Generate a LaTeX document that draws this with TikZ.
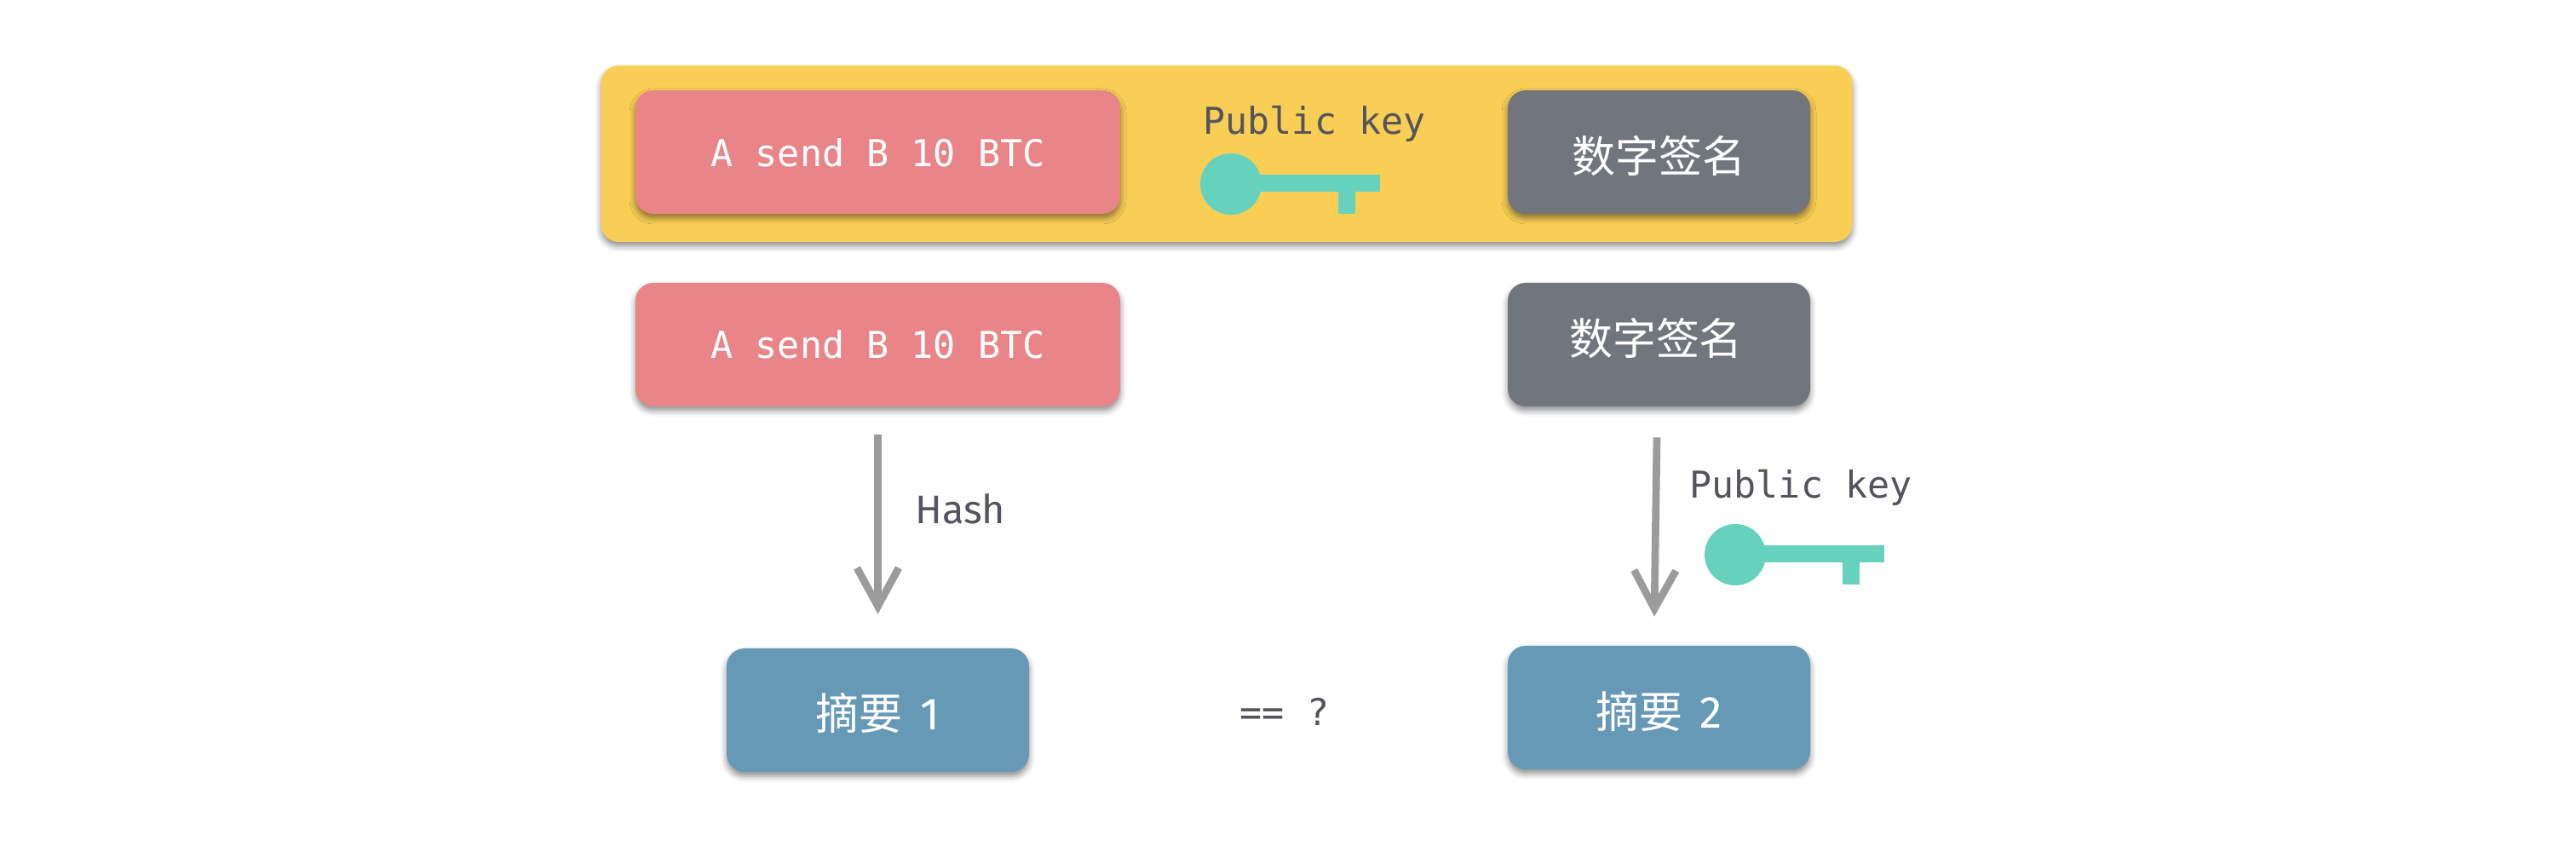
\documentclass[tikz,border=0pt]{standalone}
\usepackage{fontspec}
\setmainfont{Fira Sans}
\setmonofont{DejaVu Sans Mono}
\newfontfamily\cjk{Noto Sans CJK SC}
\usetikzlibrary{arrows.meta,shadows.blur}
\definecolor{cbar}{HTML}{F9CE55}
\definecolor{cmsg}{HTML}{E98489}
\definecolor{csig}{HTML}{71767D}
\definecolor{cdig}{HTML}{6699B6}
\definecolor{ckey}{HTML}{66D2BE}
\definecolor{cflow}{HTML}{9B9B9B}
\definecolor{clabel}{HTML}{55545E}
\newcommand{\monosize}{\fontsize{24.7}{28}\selectfont\ttfamily}
\newcommand{\cjksize}{\fontsize{29}{34}\selectfont\cjk}
\newcommand{\digit}[1]{{\fontsize{30}{34}\selectfont\rmfamily #1}}
\newcommand{\lifted}[2]{\smash{\raisebox{#1}{#2}}}

\begin{document}
\begin{tikzpicture}[
  box/.style={rounded corners=0.42cm, minimum height=2.9cm, inner sep=0pt, text=white,
              blur shadow={shadow xshift=0cm, shadow yshift=-0.1cm, shadow blur radius=0.14cm, shadow opacity=45}},
  msgbox/.style={box, fill=cmsg, minimum width=11.38cm, font=\monosize},
  sigbox/.style={box, fill=csig, minimum width=7.1cm, font=\cjksize},
  digbox/.style={box, fill=cdig, minimum width=7.1cm, font=\cjksize},
  lbl/.style={anchor=base west, inner sep=0pt, text=clabel, font=\monosize},
  flow/.style={-{Straight Barb[length=0.9cm, width=0.98cm]}, line width=0.174cm, draw=cflow},
  key/.pic={
    \fill[ckey] (0,0) circle (0.72);
    \fill[ckey] (0,-0.18) rectangle (3.5,0.22);
    \fill[ckey] (2.52,-0.7) rectangle (2.92,-0.1);
  },
]
\useasboundingbox (0,0) rectangle (60.48,20.12);

% ------------------------------------------------------------ signed message
\node[box, fill=cbar, minimum width=29.38cm, minimum height=4.14cm] (bar) at (28.8,16.51) {};
\node[msgbox] (msgtop) at (20.61,16.55) {\lifted{-9.8pt}{A send B 10 BTC}};
\node[sigbox] (sigtop) at (38.95,16.55) {\lifted{-13.4pt}{数字签名}};
\node[lbl] (pubtop) at (28.24,16.96) {Public key};
\pic at (28.9,15.8) {key};

% ------------------------------------------------------------ split in two
\node[msgbox] (msg) at (20.61,12.03) {\lifted{-9pt}{A send B 10 BTC}};
\node[sigbox] (sig) at (38.95,12.03) {\hspace*{-4pt}\lifted{-6.7pt}{数字签名}};

% ------------------------------------------------------------ digests
\node[digbox] (diga) at (20.61,3.45) {\lifted{-13pt}{摘要\hspace{0.4em}\digit{1}}};
\node[digbox] (digb) at (38.95,3.51) {\lifted{-13.6pt}{摘要\hspace{0.4em}\digit{2}}};
\node[lbl, anchor=center] (same) at (30.16,3.42) {== ?};

\draw[flow] ([yshift=-0.66cm]msg.south) -- ([yshift=0.8cm]diga.north);
\draw[flow] ([xshift=-0.05cm, yshift=-0.72cm]sig.south) -- ([xshift=-0.11cm, yshift=0.68cm]digb.north);
\node[lbl, font=\fontsize{26.6}{30}\selectfont\rmfamily] (hash) at (21.48,7.83) {Hash};
\node[lbl] (pub) at (39.66,8.42) {Public key};
\pic at (40.74,7.1) {key};
\end{tikzpicture}
\end{document}
